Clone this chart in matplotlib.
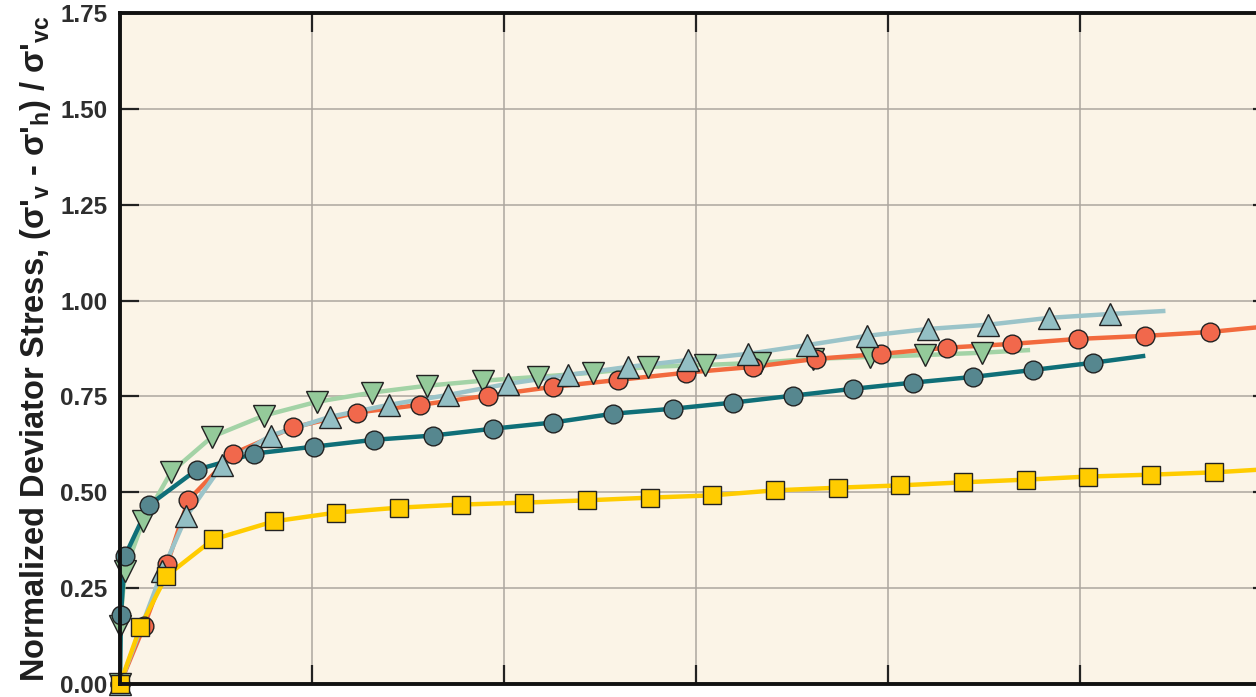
import matplotlib
matplotlib.use('Agg')
import matplotlib.pyplot as plt

plt.rcParams['font.family'] = ['Liberation Sans', 'DejaVu Sans']
plt.rcParams['mathtext.fontset'] = 'custom'
plt.rcParams['mathtext.rm'] = 'Liberation Sans:bold'
plt.rcParams['mathtext.bf'] = 'Liberation Sans:bold'
plt.rcParams['mathtext.it'] = 'Liberation Sans:bold'

# strain (x) and normalized deviator stress (y)
teal_x = [0.0, 0.01, 0.05, 0.30, 0.80, 1.40, 2.02, 2.65, 3.26, 3.89, 4.51, 5.14, 5.76, 6.39, 7.01, 7.64, 8.26, 8.89, 9.51, 10.14]
teal_y = [0.0, 0.18, 0.333, 0.466, 0.559, 0.601, 0.619, 0.637, 0.648, 0.666, 0.682, 0.705, 0.718, 0.734, 0.752, 0.770, 0.786, 0.801, 0.819, 0.838]
teal_end = (10.68, 0.856)

red_x = [0.0, 0.25, 0.49, 0.71, 1.18, 1.80, 2.47, 3.125, 3.83, 4.51, 5.19, 5.90, 6.59, 7.25, 7.93, 8.61, 9.29, 9.98, 10.68, 11.35]
red_y = [0.0, 0.151, 0.312, 0.479, 0.601, 0.669, 0.708, 0.728, 0.752, 0.775, 0.793, 0.812, 0.827, 0.848, 0.861, 0.877, 0.887, 0.900, 0.908, 0.918]
red_end = (12.0, 0.934)

blue_x = [0.0, 0.44, 0.69, 1.06, 1.57, 2.19, 2.80, 3.42, 4.04, 4.67, 5.29, 5.92, 6.54, 7.16, 7.78, 8.42, 9.04, 9.68, 10.31]
blue_y = [0.0, 0.294, 0.437, 0.570, 0.648, 0.697, 0.728, 0.754, 0.783, 0.806, 0.827, 0.845, 0.861, 0.884, 0.908, 0.926, 0.937, 0.955, 0.965]
blue_end = (10.89, 0.973)

green_x = [0.0, 0.0, 0.05, 0.24, 0.53, 0.96, 1.50, 2.05, 2.625, 3.20, 3.78, 4.35, 4.93, 5.50, 6.09, 6.67, 7.22, 7.81, 8.39, 8.98]
green_y = [0.0, 0.15, 0.294, 0.424, 0.552, 0.645, 0.700, 0.736, 0.760, 0.778, 0.791, 0.801, 0.812, 0.827, 0.832, 0.838, 0.848, 0.853, 0.858, 0.864]
green_end = (9.48, 0.871)

yellow_x = [0.0, 0.21, 0.48, 0.97, 1.60, 2.25, 2.91, 3.55, 4.21, 4.86, 5.52, 6.17, 6.82, 7.48, 8.125, 8.78, 9.44, 10.08, 10.74, 11.40]
yellow_y = [0.0, 0.148, 0.281, 0.377, 0.424, 0.447, 0.460, 0.468, 0.473, 0.479, 0.486, 0.492, 0.505, 0.512, 0.518, 0.526, 0.533, 0.541, 0.546, 0.552]
yellow_end = (12.0, 0.561)

y_ticks = [0.0, 0.25, 0.5, 0.75, 1.0, 1.25, 1.5, 1.75]
x_ticks = [0, 2, 4, 6, 8, 10, 12]

fig = plt.figure(figsize=(12.56, 6.97), dpi=100)
ax = fig.add_axes([120 / 1256, 13 / 697, 1152 / 1256, 671 / 697])
ax.set_facecolor('#fbf4e7')

series = [
    (green_x, green_y, green_end, '#a3d3a6', '#94ca9a', 'v', 15.5),
    (teal_x, teal_y, teal_end, '#0f6f78', '#56878f', 'o', 13.5),
    (red_x, red_y, red_end, '#f26a3e', '#f1684c', 'o', 13.5),
    (blue_x, blue_y, blue_end, '#9bc4c9', '#93bfc4', '^', 15.5),
    (yellow_x, yellow_y, yellow_end, '#ffcc00', '#ffcc00', 's', 13),
]

for i, (xs, ys, end, lc, mc, mk, ms) in enumerate(series):
    ax.plot(list(xs) + [end[0]], list(ys) + [end[1]], color=lc, lw=3.2, zorder=3 + i,
            solid_capstyle='butt', solid_joinstyle='round')
for i, (xs, ys, end, lc, mc, mk, ms) in enumerate(series):
    ax.plot(xs, ys, ls='none', marker=mk, ms=ms, mfc=mc, mec='#222222', mew=1,
            zorder=10 + i, clip_on=False)

ax.set_xlim(0, 12)
ax.set_ylim(0, 1.75)
ax.set_xticks(x_ticks)
ax.set_yticks(y_ticks)
ax.set_yticklabels([f'{v:.2f}' for v in y_ticks])
ax.set_xticklabels([])
ax.grid(True, color='#aca79f', lw=1.1)
ax.set_axisbelow(True)

ax.tick_params(axis='both', direction='in', length=14, width=1.6, color='#222222',
               top=True, right=True, labelsize=17.5, pad=9, labelcolor='#2e2e2e')
for lab in ax.get_yticklabels():
    lab.set_fontweight('bold')
for sp in ax.spines.values():
    sp.set_linewidth(2.8)
    sp.set_color('#111111')
    sp.set_zorder(20)

ax.set_ylabel(r"Normalized Deviator Stress, ($\sigma$'$_{v}$ - $\sigma$'$_{h}$) / $\sigma$'$_{vc}$",
              fontsize=23.5, fontweight='bold', color='#1e1e1e', labelpad=5)

fig.savefig('out.png', dpi=100)
